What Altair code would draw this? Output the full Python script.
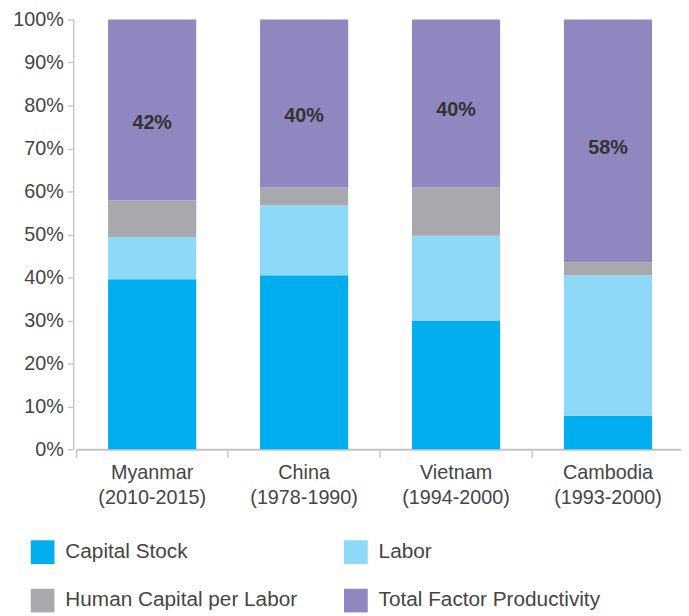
import altair as alt
import pandas as pd

# ---- data ----
countries = ["Myanmar|(2010-2015)", "China|(1978-1990)", "Vietnam|(1994-2000)", "Cambodia|(1993-2000)"]
factors = ["Capital Stock", "Labor", "Human Capital per Labor", "Total Factor Productivity"]
capital_stock = [39.6, 40.5, 30.0, 7.8]
labor = [9.8, 16.3, 19.7, 32.7]
human_capital = [8.5, 4.1, 11.2, 3.0]
tfp = [42.1, 39.1, 39.1, 56.5]
tfp_labels = ["42%", "40%", "40%", "58%"]
tfp_label_y = [76.0, 77.6, 79.0, 70.0]
colors = ["#00AEEF", "#8ED8F8", "#A7A9AC", "#9087C0"]
y_ticks = [0, 10, 20, 30, 40, 50, 60, 70, 80, 90, 100]

# legend is filled column by column: column 1 = Capital Stock, Human Capital; column 2 = Labor, TFP
legend_order = [factors[0], factors[2], factors[1], factors[3]]
legend_colors = [colors[0], colors[2], colors[1], colors[3]]

FONT = "Liberation Sans"
TEXT = "#454545"

rows = []
for series_idx, (name, vals) in enumerate(zip(factors, [capital_stock, labor, human_capital, tfp])):
    for c, v in zip(countries, vals):
        rows.append({"country": c, "factor": name, "value": v, "idx": series_idx})
df = pd.DataFrame(rows)

lab = pd.DataFrame({"country": countries, "text": tfp_labels, "pos": tfp_label_y})

x_scale = alt.Scale(paddingInner=0, paddingOuter=0, range=[3, 618])

x_enc = alt.X(
    "country:N",
    sort=countries,
    scale=x_scale,
    axis=alt.Axis(
        title=None,
        labelAngle=0,
        labelExpr="split(datum.label, '|')",
        labelFont=FONT,
        labelFontSize=20,
        labelColor=TEXT,
        labelLineHeight=26,
        labelPadding=5,
        labelBaseline="top",
        bandPosition=0,
        tickSize=8,
        tickColor="#c8c8c8",
        tickWidth=1.5,
        domainColor="#c4c4c4",
        domainWidth=2,
    ),
)

bars = alt.Chart(df).mark_bar(width=alt.RelativeBandSize(0.58)).encode(
    x=x_enc,
    y=alt.Y(
        "value:Q",
        stack="zero",
        scale=alt.Scale(domain=[0, 100], nice=False),
        axis=alt.Axis(
            title=None,
            values=y_ticks,
            labelExpr="datum.value + '%'",
            labelFont=FONT,
            labelFontSize=20,
            labelColor=TEXT,
            labelPadding=4,
            tickSize=6,
            tickColor="#c8c8c8",
            tickWidth=1.5,
            domainColor="#c8c8c8",
            domainWidth=1.5,
            grid=False,
        ),
    ),
    color=alt.Color(
        "factor:N",
        scale=alt.Scale(domain=legend_order, range=legend_colors),
        legend=alt.Legend(
            title=None,
            orient="none",
            legendX=-43,
            legendY=527,
            columns=2,
            symbolType="square",
            symbolSize=576,
            symbolStrokeWidth=0,
            symbolOpacity=1,
            labelFont=FONT,
            labelFontSize=21,
            labelColor=TEXT,
            labelLimit=320,
            labelOffset=11,
            columnPadding=47,
            rowPadding=25,
            padding=0,
        ),
    ),
    order=alt.Order("idx:Q", sort="ascending"),
)

texts = alt.Chart(lab).mark_text(
    font=FONT, fontSize=20, fontWeight="bold", color="#333333"
).encode(
    x=alt.X("country:N", sort=countries, scale=x_scale),
    y=alt.Y("pos:Q"),
    text="text:N",
)

chart = (
    alt.layer(bars, texts)
    .properties(
        width=615,
        height=435,
        autosize=alt.AutoSizeParams(type="none"),
        padding={"left": 66, "top": 8, "right": 0, "bottom": 165},
    )
    .configure_view(stroke=None)
)

chart.save("out.html", embed_options={"renderer": "svg", "actions": False})
